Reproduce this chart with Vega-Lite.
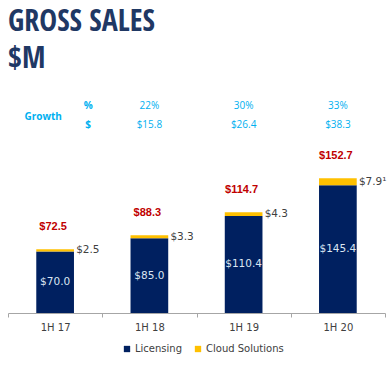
{
  "$schema": "https://vega.github.io/schema/vega-lite/v6.json",
  "width": 377,
  "height": 233,
  "autosize": {"type": "none"},
  "padding": {"left": 8, "top": 80, "right": 6, "bottom": 53},
  "background": "white",
  "title": {
    "text": ["GROSS SALES", "$M"],
    "anchor": "start",
    "frame": "group",
    "font": "'Noto Sans ExtraCondensed Light', 'Noto Sans ExtraCondensed', 'Noto Sans Condensed', 'Open Sans Condensed', 'DejaVu Sans Condensed', sans-serif",
    "fontSize": 30,
    "fontWeight": "normal",
    "color": "#1f3864",
    "lineHeight": 37,
    "offset": 6
  },
  "config": {
    "view": {"stroke": null},
    "font": "Liberation Sans"
  },
  "datasets": {
    "bars": [
      {"period": "1H 17", "segment": "Licensing", "ord": 1, "value": 70.0, "label": "$70.0"},
      {"period": "1H 17", "segment": "Cloud Solutions", "ord": 2, "value": 2.5, "label": "$2.5"},
      {"period": "1H 18", "segment": "Licensing", "ord": 1, "value": 85.0, "label": "$85.0"},
      {"period": "1H 18", "segment": "Cloud Solutions", "ord": 2, "value": 3.3, "label": "$3.3"},
      {"period": "1H 19", "segment": "Licensing", "ord": 1, "value": 110.4, "label": "$110.4"},
      {"period": "1H 19", "segment": "Cloud Solutions", "ord": 2, "value": 4.3, "label": "$4.3"},
      {"period": "1H 20", "segment": "Licensing", "ord": 1, "value": 145.4, "label": "$145.4"},
      {"period": "1H 20", "segment": "Cloud Solutions", "ord": 2, "value": 7.9, "label": "$7.9¹"}
    ],
    "totals": [
      {"period": "1H 17", "total": 72.5, "label": "$72.5"},
      {"period": "1H 18", "total": 88.3, "label": "$88.3"},
      {"period": "1H 19", "total": 114.7, "label": "$114.7"},
      {"period": "1H 20", "total": 153.3, "label": "$152.7"}
    ],
    "growth": [
      {"period": "1H 18", "pct": "22%", "usd": "$15.8"},
      {"period": "1H 19", "pct": "30%", "usd": "$26.4"},
      {"period": "1H 20", "pct": "33%", "usd": "$38.3"}
    ],
    "header": [
      {"period": "1H 17", "name": "Growth", "pct": "%", "usd": "$"}
    ]
  },
  "encoding": {
    "x": {
      "field": "period",
      "type": "nominal",
      "scale": {"paddingInner": 0, "paddingOuter": 0, "domain": ["1H 17", "1H 18", "1H 19", "1H 20"]},
      "axis": {
        "title": null,
        "labelAngle": 0,
        "tickBand": "extent",
        "tickSize": 4,
        "tickColor": "#a6a6a6",
        "domainColor": "#a6a6a6",
        "labelColor": "#404040",
        "labelFont": "DejaVu Sans",
        "labelFontSize": 10,
        "labelPadding": 5
      }
    }
  },
  "layer": [
    {
      "data": {"name": "bars"},
      "mark": {"type": "bar", "width": {"band": 0.4}},
      "encoding": {
        "y": {"field": "value", "type": "quantitative", "stack": "zero", "scale": {"domain": [0, 265], "nice": false}, "axis": null},
        "order": {"field": "ord", "type": "quantitative"},
        "color": {
          "field": "segment",
          "type": "nominal",
          "scale": {"domain": ["Licensing", "Cloud Solutions"], "range": ["#002060", "#ffc000"]},
          "legend": {
            "title": null,
            "orient": "none",
            "legendX": 114,
            "legendY": 264,
            "direction": "horizontal",
            "symbolType": "square",
            "symbolSize": 40,
            "symbolStrokeWidth": 0,
            "labelFont": "DejaVu Sans",
            "labelFontSize": 10,
            "labelColor": "#404040",
            "labelOffset": 3,
            "columnPadding": 10
          }
        }
      }
    },
    {
      "data": {"name": "bars"},
      "transform": [{"filter": "datum.segment === 'Licensing'"}],
      "mark": {"type": "text", "font": "DejaVu Sans", "fontSize": 10.5, "color": "#dce6f2", "baseline": "middle"},
      "encoding": {
        "y": {"field": "value", "type": "quantitative", "stack": "zero", "bandPosition": 0.5, "scale": {"domain": [0, 265], "nice": false}},
        "text": {"field": "label"}
      }
    },
    {
      "data": {"name": "bars"},
      "mark": {"type": "text", "font": "DejaVu Sans", "fontSize": 10.5, "color": "#404040", "align": "left", "baseline": "middle", "dx": 21},
      "encoding": {
        "y": {"field": "value", "type": "quantitative", "stack": "zero", "bandPosition": 0.5, "scale": {"domain": [0, 265], "nice": false}},
        "order": {"field": "ord", "type": "quantitative"},
        "opacity": {"condition": {"test": "datum.segment === 'Cloud Solutions'", "value": 1}, "value": 0},
        "text": {"field": "label"}
      }
    },
    {
      "data": {"name": "totals"},
      "mark": {"type": "text", "fontWeight": "bold", "fontSize": 11, "color": "#c00000", "baseline": "middle", "dy": -22, "dx": -2},
      "encoding": {
        "y": {"field": "total", "type": "quantitative", "scale": {"domain": [0, 265], "nice": false}},
        "text": {"field": "label"}
      }
    },
    {
      "data": {"name": "growth"},
      "mark": {"type": "text", "font": "Open Sans", "fontSize": 10, "color": "#00b0f0", "baseline": "middle"},
      "encoding": {
        "y": {"datum": 235, "type": "quantitative"},
        "text": {"field": "pct"}
      }
    },
    {
      "data": {"name": "growth"},
      "mark": {"type": "text", "font": "Open Sans", "fontSize": 10, "color": "#00b0f0", "baseline": "middle"},
      "encoding": {
        "y": {"datum": 214, "type": "quantitative"},
        "text": {"field": "usd"}
      }
    },
    {
      "data": {"name": "header"},
      "mark": {"type": "text", "font": "Open Sans", "fontSize": 10, "fontWeight": "bold", "color": "#00b0f0", "baseline": "middle", "dx": -12},
      "encoding": {
        "y": {"datum": 223, "type": "quantitative"},
        "text": {"field": "name"}
      }
    },
    {
      "data": {"name": "header"},
      "mark": {"type": "text", "font": "Open Sans", "fontSize": 10, "fontWeight": "bold", "color": "#00b0f0", "baseline": "middle", "dx": 33},
      "encoding": {
        "y": {"datum": 235, "type": "quantitative"},
        "text": {"field": "pct"}
      }
    },
    {
      "data": {"name": "header"},
      "mark": {"type": "text", "font": "Open Sans", "fontSize": 10, "fontWeight": "bold", "color": "#00b0f0", "baseline": "middle", "dx": 33},
      "encoding": {
        "y": {"datum": 214, "type": "quantitative"},
        "text": {"field": "usd"}
      }
    }
  ]
}
